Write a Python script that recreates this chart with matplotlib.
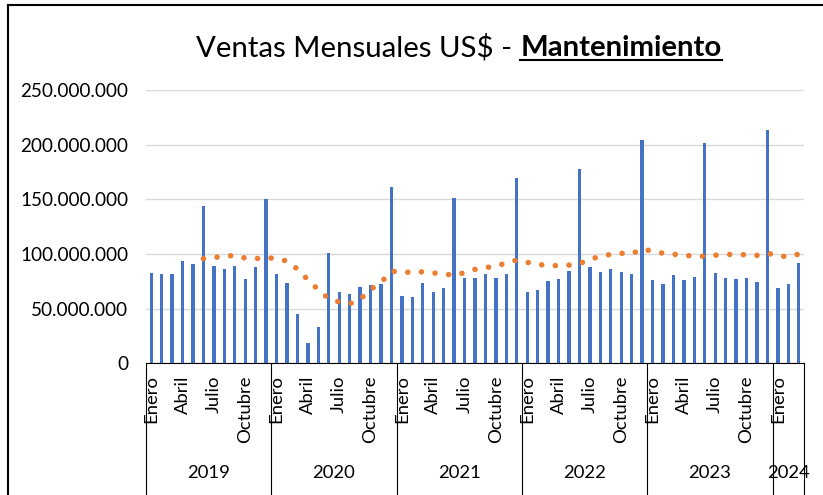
import matplotlib.pyplot as plt
import matplotlib.transforms as mtransforms
import numpy as np
import pandas as pd
from matplotlib.lines import Line2D
from matplotlib.ticker import FuncFormatter

plt.rcParams['font.family'] = ['Lato', 'DejaVu Sans']

# Monthly sales in millions of US$
years = ["2019", "2020", "2021", "2022", "2023", "2024"]
months_per_year = [12, 12, 12, 12, 12, 3]
shown_months = {0: "Enero", 3: "Abril", 6: "Julio", 9: "Octubre"}

ventas_2019 = [82.4, 81.8, 81.8, 93.4, 91.2, 144.0, 89.1, 86.4, 89.1, 77.5, 88.2, 150.7]
ventas_2020 = [82.1, 73.8, 45.1, 18.6, 33.2, 101.0, 65.0, 63.7, 70.1, 71.7, 72.9, 161.2]
ventas_2021 = [61.9, 60.7, 73.8, 65.3, 68.7, 151.4, 78.1, 78.1, 82.0, 77.8, 81.5, 169.4]
ventas_2022 = [65.3, 67.1, 75.4, 77.2, 84.5, 177.9, 88.2, 83.6, 86.4, 83.3, 81.5, 204.2]
ventas_2023 = [76.3, 72.6, 80.9, 76.3, 79.0, 201.7, 82.7, 78.1, 77.2, 78.1, 74.5, 213.6]
ventas_2024 = [68.7, 72.6, 91.8]

ventas = np.array(ventas_2019 + ventas_2020 + ventas_2021 + ventas_2022
                  + ventas_2023 + ventas_2024) * 1e6
# 6-period moving average trendline (as in Excel)
tendencia = pd.Series(ventas).rolling(6).mean()

W, H = 823, 495
fig = plt.figure(figsize=(W / 100, H / 100), dpi=100)
ax = fig.add_axes([146 / W, (H - 363.3) / H, (804 - 146) / W, (363.3 - 90) / H])

x = np.arange(len(ventas))
ax.bar(x, ventas, width=0.32, color='#4472C4', zorder=2)
ax.plot(x, tendencia, color='#ED7D31', lw=4.0, linestyle=(0, (0.01, 2.45)),
        dash_capstyle='round', zorder=3)

ax.set_xlim(-0.5, len(ventas) - 0.5)
ax.set_ylim(0, 250e6)
ax.set_yticks(np.arange(0, 250e6 + 1, 50e6))
ax.yaxis.set_major_formatter(FuncFormatter(lambda v, p: f'{int(v):,}'.replace(',', '.')))
ax.tick_params(axis='y', length=0, pad=13, labelsize=13.6)
ax.set_xticks([])
ax.grid(axis='y', color='#D9D9D9', lw=1)
ax.set_axisbelow(True)
for s in ['top', 'right', 'left']:
    ax.spines[s].set_visible(False)
ax.spines['bottom'].set_color('black')
ax.spines['bottom'].set_linewidth(0.8)

# multi-level category axis
trans = mtransforms.blended_transform_factory(ax.transData, ax.transAxes)
start = 0
for year, n in zip(years, months_per_year):
    for m in range(n):
        if m in shown_months:
            ax.annotate(shown_months[m], xy=(start + m, 0), xycoords=trans,
                        xytext=(0, -12), textcoords='offset pixels',
                        rotation=90, ha='center', va='top', fontsize=13.3)
    ax.annotate(year, xy=(start + (n - 1) / 2, 0), xycoords=trans,
                xytext=(0, -110), textcoords='offset pixels',
                ha='center', va='center', fontsize=13.3)
    start += n
for b in np.cumsum([0] + months_per_year) - 0.5:
    ax.plot([b, b], [0, -0.49], transform=trans, color='black', lw=0.8, clip_on=False)

# chart border (left and top visible)
fig.add_artist(Line2D([8 / W, 8 / W], [0, 1 - 5 / H], color='black', lw=1.5,
                      transform=fig.transFigure))
fig.add_artist(Line2D([8 / W, 1], [1 - 5 / H, 1 - 5 / H], color='black', lw=1.5,
                      transform=fig.transFigure))

# title: regular part + bold underlined part
renderer = fig.canvas.get_renderer()
fs = 21.2
yb = (H - 56) / H
t1 = fig.text(0, yb, 'Ventas Mensuales US$ -', fontsize=fs, va='baseline')
t2 = fig.text(0, yb, 'Mantenimiento', fontsize=fs, fontweight='bold', va='baseline')
w1 = t1.get_window_extent(renderer).width
w2 = t2.get_window_extent(renderer).width
gap = 0.27 * fs * 100 / 72
x0 = 459 - (w1 + gap + w2) / 2
t1.set_x(x0 / W)
t2.set_x((x0 + w1 + gap) / W)
x2 = x0 + w1 + gap
fig.add_artist(Line2D([x2 / W, (x2 + w2) / W], [(H - 60) / H] * 2, color='black', lw=1.5,
                      transform=fig.transFigure))

fig.savefig('out.png', dpi=100)
